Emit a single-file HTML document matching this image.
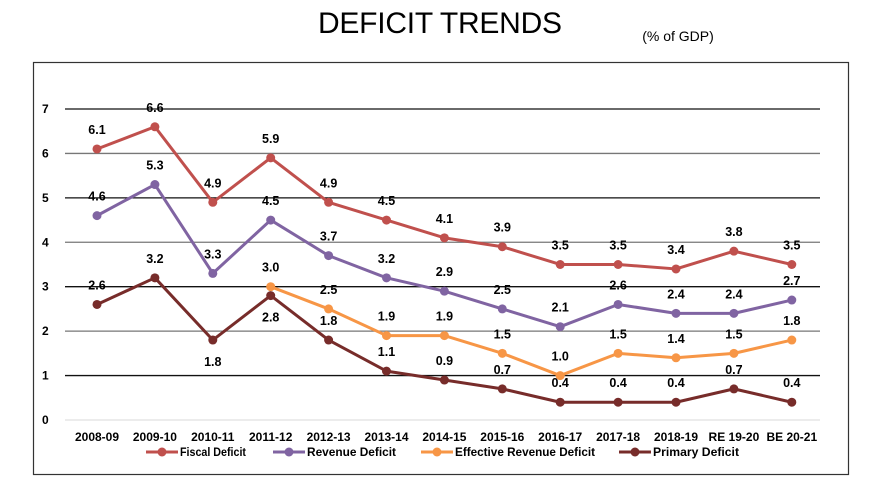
<!DOCTYPE html>
<html><head><meta charset="utf-8"><style>
body{margin:0;background:#fff;}
svg text{font-family:"Liberation Sans",sans-serif;}
</style></head><body>
<svg id="c" width="887" height="499" xmlns="http://www.w3.org/2000/svg">
<text x="440" y="33" text-anchor="middle" font-size="30" textLength="244">DEFICIT TRENDS</text>
<text x="678" y="41" text-anchor="middle" font-size="14">(% of GDP)</text>
<rect x="33.5" y="62.5" width="815" height="412" fill="none" stroke="#333" stroke-width="1.2"/>
<g id="grid"></g><g id="series"></g><g id="legend"></g>
</svg>
<script>
const categories=["2008-09","2009-10","2010-11","2011-12","2012-13","2013-14","2014-15","2015-16","2016-17","2017-18","2018-19","RE 19-20","BE 20-21"];
const fiscal=[6.1,6.6,4.9,5.9,4.9,4.5,4.1,3.9,3.5,3.5,3.4,3.8,3.5];
const revenue=[4.6,5.3,3.3,4.5,3.7,3.2,2.9,2.5,2.1,2.6,2.4,2.4,2.7];
const effective=[null,null,null,3.0,2.5,1.9,1.9,1.5,1.0,1.5,1.4,1.5,1.8];
const primary=[2.6,3.2,1.8,2.8,1.8,1.1,0.9,0.7,0.4,0.4,0.4,0.7,0.4];
const primaryBelow=[false,false,true,true,false,false,false,false,false,false,false,false,false];
const yTicks=[0,1,2,3,4,5,6,7];
const NS="http://www.w3.org/2000/svg";
const X=i=>97+i*57.9;
const Y=v=>420-v*44.43;
function mk(tag,attrs,parent){const e=document.createElementNS(NS,tag);for(const k in attrs)e.setAttribute(k,attrs[k]);parent.appendChild(e);return e;}
const grid=document.getElementById('grid');
yTicks.forEach(t=>{
  const l=mk('line',{x1:65,x2:820,y1:Y(t),y2:Y(t),stroke:t===0?'#d9d9d9':(t%2===1?'#111':'#777'),'stroke-width':t===0?1:1.3},grid);
  
  
  const tx=mk('text',{x:42,y:Y(t)+4,'font-size':12,'font-weight':'bold'},grid);tx.textContent=t;
  
  
});
categories.forEach((c,i)=>{
  const tx=mk('text',{x:X(i),y:441,'font-size':12,'font-weight':'bold','text-anchor':'middle'},grid);tx.textContent=c;
  
  
});
const sg=document.getElementById('series');
function drawSeries(vals,color,name,below){
  const g=mk('g',{},sg);
  
  
  const pts=[];vals.forEach((v,i)=>{if(v!==null)pts.push(X(i)+','+Y(v));});
  const p=mk('polyline',{points:pts.join(' '),fill:'none',stroke:color,'stroke-width':3,'stroke-linejoin':'round'},g);
  
  
  vals.forEach((v,i)=>{if(v===null)return;
    const c=mk('circle',{cx:X(i),cy:Y(v),r:4.5,fill:color},g);
    
    
    const b=below&&below[i];
    const t=mk('text',{x:X(i),y:b?Y(v)+26:Y(v)-15,'font-size':12.5,'font-weight':'bold','text-anchor':'middle'},g);
    t.textContent=v.toFixed(1);
    
    
  });
}
drawSeries(fiscal,'#c0504d','fiscal-deficit');
drawSeries(revenue,'#8064a2','revenue-deficit');
drawSeries(effective,'#f79646','effective-revenue-deficit');
drawSeries(primary,'#772c2a','primary-deficit',primaryBelow);
const lg=document.getElementById('legend');
const legendNames=["Fiscal Deficit","Revenue Deficit","Effective Revenue Deficit","Primary Deficit"];
const legendColors=['#c0504d','#8064a2','#f79646','#772c2a'];
const legendX=[146,273,421,619];
const legendW=[66,89,140,86];
legendNames.forEach((n,i)=>{
  const g=mk('g',{},lg);
  
  
  mk('line',{x1:legendX[i],x2:legendX[i]+32,y1:452,y2:452,stroke:legendColors[i],'stroke-width':3},g);
  mk('circle',{cx:legendX[i]+16,cy:452,r:4.5,fill:legendColors[i]},g);
  const t=mk('text',{x:legendX[i]+34,y:456,'font-size':12,'font-weight':'bold',textLength:legendW[i],lengthAdjust:'spacingAndGlyphs'},g);t.textContent=n;
});
</script>
</body></html>
